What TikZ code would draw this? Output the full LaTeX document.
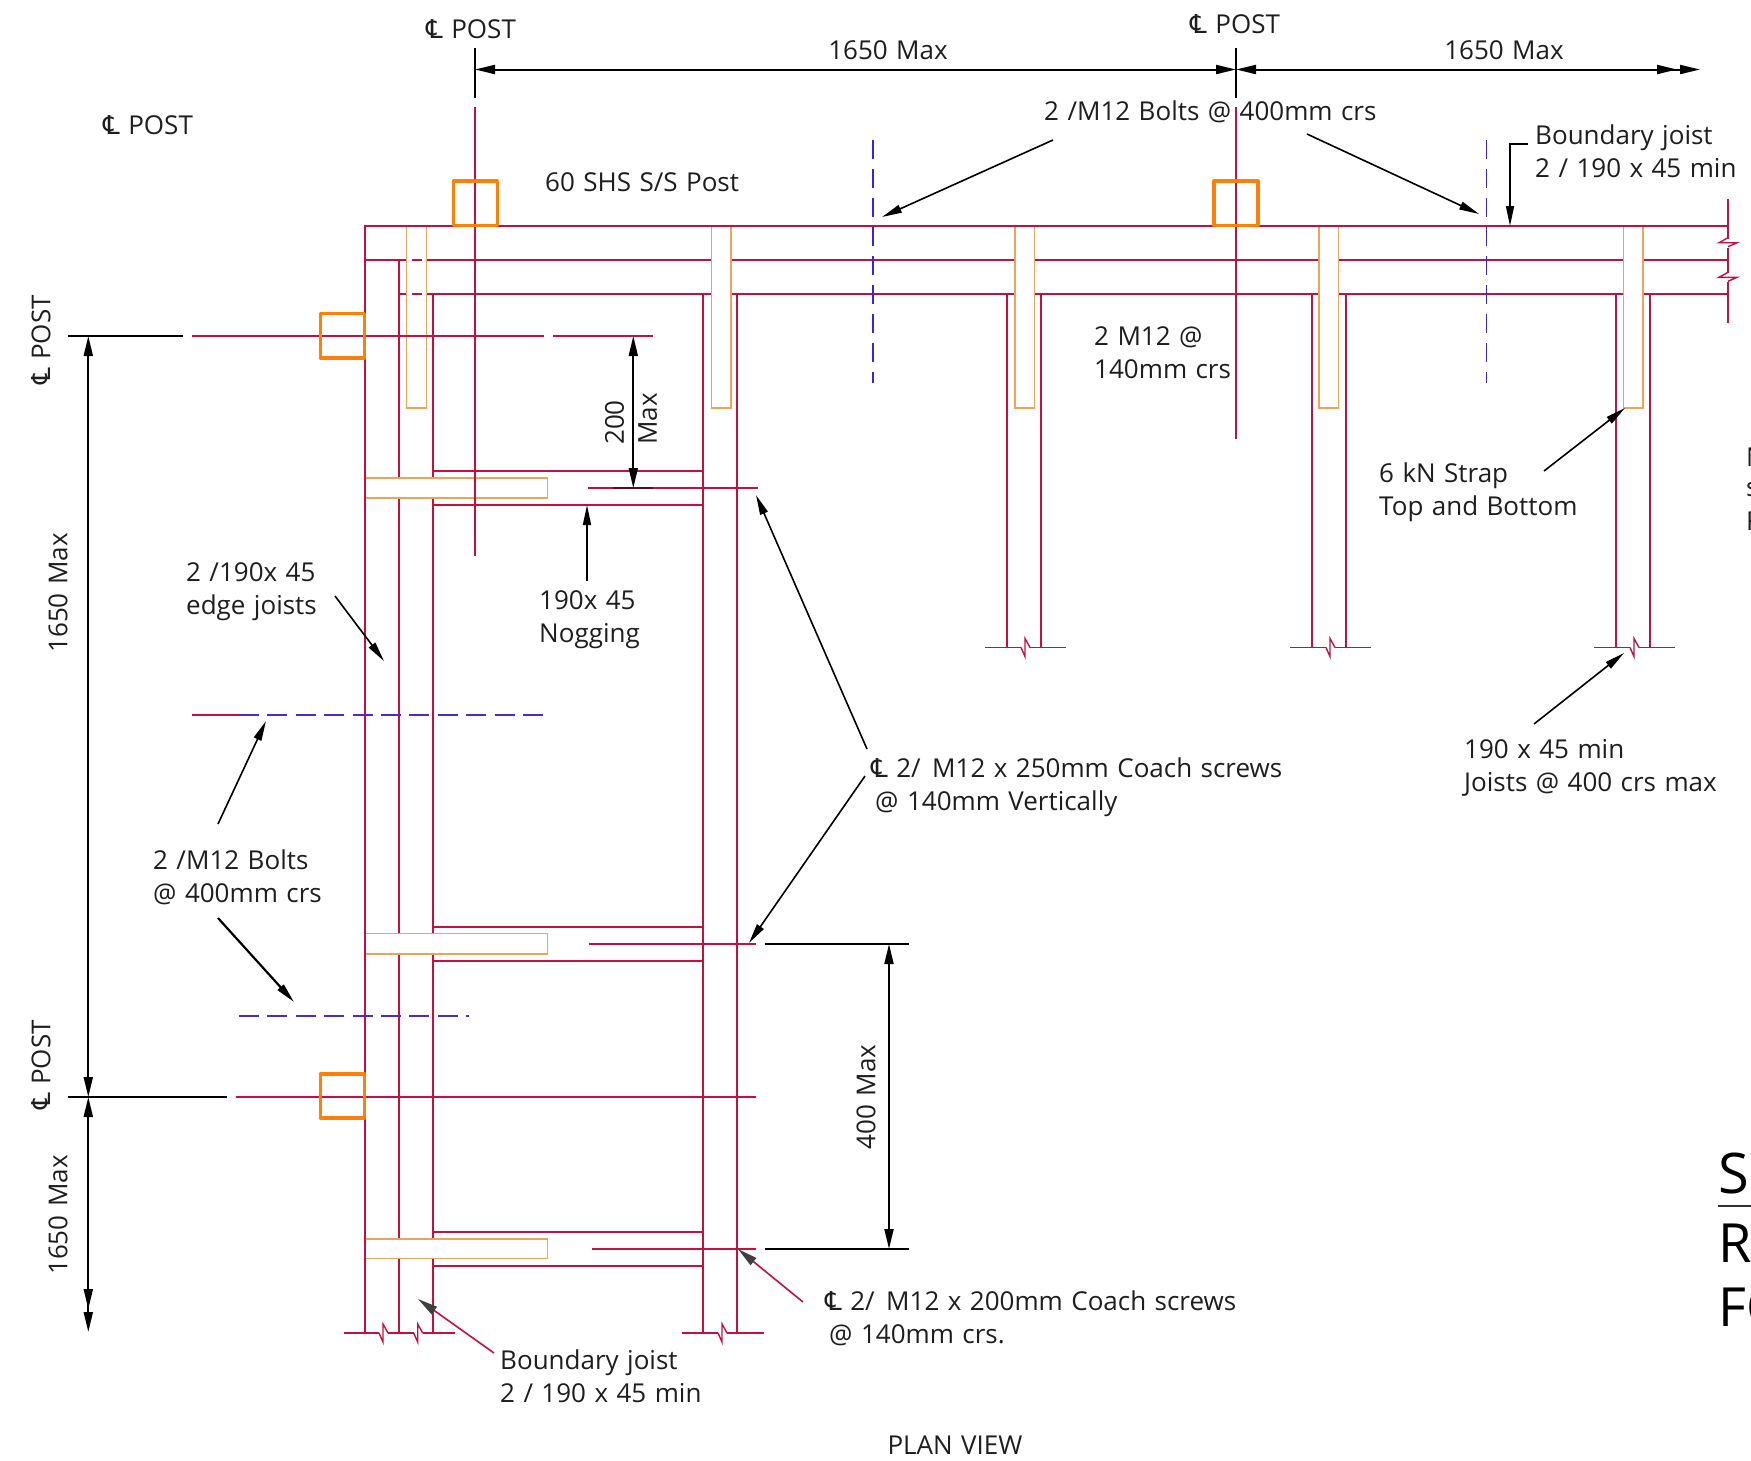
\documentclass[tikz,border=0pt]{standalone}
\usepackage{fontspec}
\setmainfont[WordSpace=1.25]{Open Sans}
\newfontfamily\clfont{DejaVu Sans}
\usepackage{xcolor}
\usetikzlibrary{arrows.meta, calc}
\definecolor{joistred}{RGB}{196, 16, 64}
\definecolor{strapcol}{RGB}{241, 162, 88}
\definecolor{postorange}{RGB}{255, 128, 8}
\definecolor{boltblue}{RGB}{80, 40, 210}
\definecolor{inkgray}{RGB}{30, 30, 30}
\newcommand{\CL}{{\clfont ℄}}

\begin{document}
\begin{tikzpicture}[
    x=1pt, y=-1pt,
    txt/.style={font=\fontsize{26}{33}\selectfont, text=inkgray, inner sep=0pt, align=left},
    joist/.style={joistred, line width=1.9pt},
    cline/.style={joistred, line width=1.6pt},
    strap/.style={strapcol, line width=1.4pt, fill=white},
    post/.style={postorange, line width=3.2pt, line join=round},
    bolt/.style={boltblue, line width=1.6pt, dash pattern=on 20pt off 8.4pt},
    boltv/.style={boltblue!80!blue, line width=1.6pt, dash pattern=on 19pt off 10pt},
    dim/.style={black, line width=2pt, {Stealth[length=20pt,width=9pt,inset=0pt]}-{Stealth[length=20pt,width=9pt,inset=0pt]}},
    dimtwo/.style={black, line width=2pt, {Stealth[length=20pt,width=9pt,inset=0pt]}-{Stealth[length=20pt,width=9pt,inset=0pt,sep=3pt]Stealth[length=20pt,width=9pt,inset=0pt]}},
    ext/.style={black, line width=1.4pt},
    extheavy/.style={black, line width=2.4pt},
    lead/.style={black, line width=1.6pt, -{Stealth[length=20pt,width=8pt,inset=0pt]}},
    leadred/.style={joistred, line width=1.6pt, -{Stealth[length=20pt,width=9pt,inset=0pt,color=inkgray!85]}},
    brk/.pic={\draw[joist, line width=1.4pt] (-4,0) -- (0,9) -- (0,-9) -- (5,0);}
]
\clip (0,0) rectangle (1751,1460);

% Boundary joists along the top
\draw[joist] (365,260) -- (1728,260);
\draw[joist] (399.3,294) -- (1728,294);

% Side walls
\draw[joist] (399.3,260) -- (399.3,1333);
\draw[joist] (432.7,294) -- (432.7,1333);

% Joists running down
\draw[joist] (702.7,294) -- (702.7,1333);
\draw[joist] (737.3,294) -- (737.3,1333);
\foreach \jl in {1007,1312,1616} {
    \draw[joist] (\jl,294) -- (\jl,647.5);
    \draw[joist] (\jl+34,294) -- (\jl+34,647.5);
    \draw[joist] (\jl-22,647.5) -- (\jl+14,647.5);
    \draw[joist] (\jl+23,647.5) -- (\jl+59,647.5);
    \pic at (\jl+18,647.5) {brk};
}

% Noggings
\foreach \ya/\yb in {470.7/504.7,927/961,1231.7/1265.7} {
    \draw[joist] (432.7,\ya) -- (702.7,\ya);
    \draw[joist] (432.7,\yb) -- (702.7,\yb);
}

% Straps
\foreach \sl in {406.7,711.3,1015,1319,1623.3} {
    \draw[strap] (\sl,225.7) -- (\sl,408) -- (\sl+19.5,408) -- (\sl+19.5,225.7);
    \fill[white] (\sl+0.7,227) rectangle (\sl+18.8,407);
}
\foreach \ya/\yb in {478/498,933.5/954,1239/1258.3} {
    \draw[strap] (365,\ya) rectangle (547.3,\yb);
}
\draw[joist] (411.7,260) -- (421.7,260);
\draw[joist] (411.7,294) -- (421.7,294);

% Outer edges and bottom breaks
\draw[joist] (1728,225.7) -- (365,225.7) -- (365,1333);
\draw[joist] (344,1333) -- (379,1333);
\draw[joist] (388,1333) -- (413.7,1333);
\draw[joist] (422.7,1333) -- (455,1333);
\pic at (383,1333) {brk};
\pic at (417.7,1333) {brk};
\draw[joist] (682,1333) -- (718,1333);
\draw[joist] (727,1333) -- (764,1333);
\pic at (722,1333) {brk};
\draw[joist] (1728,199) -- (1728,238.7);
\draw[joist] (1728,247.7) -- (1728,273.3);
\draw[joist] (1728,282.3) -- (1728,322.7);
\pic[rotate=90] at (1728,242.7) {brk};
\pic[rotate=90] at (1728,277.3) {brk};

% Centre lines
\draw[cline] (475,107) -- (475,556);
\draw[cline] (1236,107) -- (1236,439);
\draw[cline] (192,336) -- (544,336);
\draw[cline] (553,336) -- (653,336);
\draw[cline] (236,1097) -- (756,1097);
\draw[cline] (588,488) -- (758,488);
\draw[cline] (588.5,944) -- (756,944);
\draw[cline] (592,1249) -- (756,1249);
\draw[black!50!joistred, line width=2pt] (613,488) -- (653,488);

% Bolt lines
\draw[boltv] (873,140) -- (873,383);
\draw[boltv] (1486.3,140) -- (1486.3,383);
\draw[cline] (192,715) -- (239,715);
\draw[bolt] (239,715) -- (545,715);
\draw[bolt] (239,1016) -- (469,1016);

% Posts
\draw[post] (453.3,181) rectangle (497.3,225.7);
\draw[post] (1214,181) rectangle (1258,225.7);
\draw[post] (320.5,313.5) rectangle (364.7,358);
\draw[post] (320.5,1074) rectangle (364.7,1118);

% Dimension lines
\draw[ext] (475,48) -- (475,98);
\draw[ext] (1236,48) -- (1236,98);
\draw[ext] (68,336) -- (183,336);
\draw[extheavy] (136,336) -- (183,336);
\draw[ext] (68,1097) -- (226.7,1097);
\draw[extheavy] (135,1097) -- (226.7,1097);
\draw[ext] (765,944) -- (909,944);
\draw[extheavy] (765,944) -- (829,944);
\draw[ext] (765,1249) -- (909,1249);
\draw[extheavy] (765,1249) -- (829,1249);
\draw[dim] (475,69.5) -- (1236,69.5);
\draw[dimtwo] (1236,69.5) -- (1700,69.5);
\draw[dim] (88.3,336) -- (88.3,1097);
\draw[dimtwo] (88.3,1097) -- (88.3,1332);
\draw[dim] (889,944) -- (889,1249);
\draw[dim] (633.3,336) -- (633.3,488);

% Centre line labels
\node[txt, anchor=west] (clpostA) at (426,29) {\CL{} POST};
\node[txt, anchor=west] (clpostB) at (1190,24) {\CL{} POST};
\node[txt, anchor=west] (clpostC) at (103,125) {\CL{} POST};
\node[txt, rotate=90] (clpostD) at (41,340) {\CL{} POST};
\node[txt, rotate=90] (clpostE) at (41,1065) {\CL{} POST};

% Dimension labels
\node[txt] (spanA) at (888,50) {1650 Max};
\node[txt] (spanB) at (1504,50) {1650 Max};
\node[txt, rotate=90] (spanC) at (58,593) {1650 Max};
\node[txt, rotate=90] (spanD) at (58,1215) {1650 Max};
\node[txt, rotate=90] (gapmax) at (866,1097) {400 Max};
\node[txt, rotate=90] (nogmax) at (631,419) {200\\Max};

% Notes
\node[txt, anchor=west] (postnote) at (545,182) {60 SHS S/S Post};
\node[txt, anchor=west] (boltstop) at (1044,112) {2 /M12 Bolts @ 400mm crs};
\node[txt, anchor=west] (boundtop) at (1535,151) {Boundary joist\\2 / 190 x 45 min};
\node[txt, anchor=west] (m12note) at (1094,352.5) {2 M12 @\\140mm crs};
\node[txt, anchor=west] (strapnote) at (1379,492.5) {6 kN Strap\\Top and Bottom};
\node[txt, anchor=west] (joistnote) at (1464,768) {190 x 45 min\\Joists @ 400 crs max};
\node[txt, anchor=west] (edgenote) at (186,592) {2 /190x 45\\edge joists};
\node[txt, anchor=west] (nognote) at (539,620) {190x 45\\Nogging};
\node[txt, anchor=west] (boltsleft) at (153,877.5) {2 /M12 Bolts\\@ 400mm crs};
\node[txt, anchor=west] (screwA) at (871,787) {\CL{} 2/ \hspace{3pt}M12 x 250mm Coach screws\\\hspace{4pt}@ 140mm Vertically};
\node[txt, anchor=west] (screwB) at (825,1318.5) {\CL{} 2/ \hspace{3pt}M12 x 200mm Coach screws\\\hspace{4pt}@ 140mm crs.};
\node[txt, anchor=west] (boundbot) at (500,1376) {Boundary joist\\2 / 190 x 45 min};
\node[txt] (planview) at (955,1445) {PLAN VIEW};

% Leader ends
\coordinate (boltstipA) at (882,217);
\coordinate (boltstipB) at (1479,214);
\coordinate (boundtip) at (1510,226);
\coordinate (straptip) at (1625,408);
\coordinate (joisttip) at (1624,653);
\coordinate (edgetip) at (384,661);
\coordinate (nogtip) at (587,505);
\coordinate (boltsleftA) at (266,721);
\coordinate (boltsleftB) at (294,1002);
\coordinate (screwtipA) at (756,495);
\coordinate (screwtipB) at (749,943);
\coordinate (screwtipC) at (738,1249);
\coordinate (boundbottip) at (418,1299);

% Leaders
\draw[lead] ([shift={(9,28)}]boltstop.west) -- (boltstipA);
\draw[lead] ([shift={(263,22)}]boltstop.west) -- (boltstipB);
\draw[lead] ([shift={(-7,-7)}]boundtop.west) -| (boundtip);
\draw[lead] ([shift={(165,-21.5)}]strapnote.west) -- (straptip);
\draw[lead] ([shift={(70,-44)}]joistnote.west) -- (joisttip);
\draw[lead] ([shift={(149,4)}]edgenote.west) -- (edgetip);
\draw[lead] ([shift={(48,-39)}]nognote.west) -- (nogtip);
\draw[lead] ([shift={(65,-53.5)}]boltsleft.west) -- (boltsleftA);
\draw[lead, line width=2.2pt] ([shift={(65,40.5)}]boltsleft.west) -- (boltsleftB);
\draw[lead] ([shift={(-4,-38)}]screwA.west) -- (screwtipA);
\draw[lead] ([shift={(-6,-11)}]screwA.west) -- (screwtipB);
\draw[leadred] ([shift={(-22,-16.5)}]screwB.west) -- (screwtipC);
\draw[leadred] ([shift={(-6,-23)}]boundbot.west) -- (boundbottip);

% Title block cut off at the edge
\draw[black!80, line width=1.5pt] (1718,1206) -- (1751,1206);
\node[anchor=west, inner sep=0pt, font=\fontsize{56}{56}\selectfont] (titleS) at (1718,1173) {S};
\node[anchor=west, inner sep=0pt, font=\fontsize{54}{54}\selectfont] (titleR) at (1718,1243) {R};
\node[anchor=west, inner sep=0pt, font=\fontsize{54}{54}\selectfont] (titleF) at (1718,1307) {FO};
\node[txt, anchor=west] (sideN) at (1746,457) {N};
\node[txt, anchor=west] (sideS) at (1746,490) {s};
\node[txt, anchor=west] (sideF) at (1746,521) {F};

\end{tikzpicture}
\end{document}
